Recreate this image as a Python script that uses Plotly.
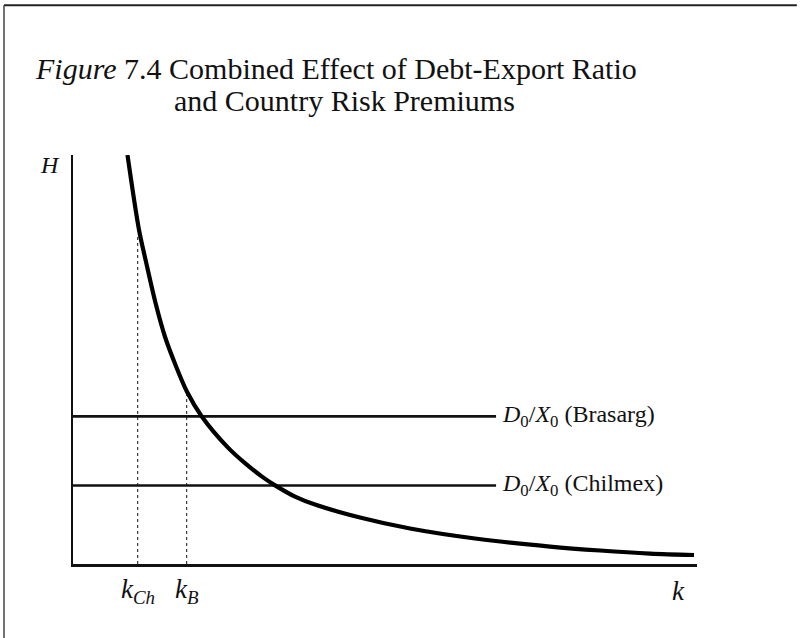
import plotly.graph_objects as go

# ---- data (abstract units: k on 0..100, H on 0..100) ----
k_curve = [8.73, 10.58, 11.70, 13.30, 14.74, 16.35, 18.27, 20.61, 24.84, 27.56, 30.29,
           32.45, 35.58, 38.78, 45.99, 54.01, 64.42, 76.44, 84.46, 92.47, 99.52]
H_curve = [100.0, 81.68, 73.87, 63.37, 55.56, 48.96, 42.12, 36.14, 28.45, 24.66, 21.37,
           19.17, 16.48, 14.53, 11.36, 8.67, 6.23, 4.27, 3.30, 2.56, 2.20]

H_brasarg = 36.1
H_chilmex = 19.2
line_end_k = 67.8

k_ch = 10.37
k_b = 18.22
H_at_kch = 80.5
H_at_kb = 41.9

serif = "Liberation Serif"
ink = "#111111"

fig = go.Figure()

# debt-export ratio lines
for H in (H_brasarg, H_chilmex):
    fig.add_trace(go.Scatter(x=[0, line_end_k], y=[H, H], mode="lines",
                             line=dict(color=ink, width=2.6), hoverinfo="skip"))

# dotted verticals
for kv, Hv in ((k_ch, H_at_kch), (k_b, H_at_kb)):
    fig.add_trace(go.Scatter(x=[kv, kv], y=[0, Hv], mode="lines",
                             line=dict(color=ink, width=1, dash="dot"), hoverinfo="skip"))

# curve
fig.add_trace(go.Scatter(x=k_curve, y=H_curve, mode="lines",
                         line=dict(color="black", width=4.2, shape="spline", smoothing=0.9),
                         hoverinfo="skip"))

lab_y = -0.067
annotations = [
    dict(text="<i>Figure</i> 7.4 Combined Effect of Debt-Export Ratio",
         xref="paper", yref="paper", x=-0.0641, y=1.212, xanchor="left", yanchor="middle",
         showarrow=False, font=dict(family=serif, size=30, color=ink)),
    dict(text="and Country Risk Premiums",
         xref="paper", yref="paper", x=0.1587, y=1.134, xanchor="left", yanchor="middle",
         showarrow=False, font=dict(family=serif, size=30, color=ink)),
    dict(text="<i>H</i>", x=-0.0369, y=0.9756, xref="paper", yref="paper", showarrow=False,
         xanchor="center", yanchor="middle", font=dict(family=serif, size=24, color=ink)),
    dict(text="<i>D</i><sub>0</sub>/<i>X</i><sub>0</sub> (Brasarg)", x=line_end_k + 0.7,
         y=H_brasarg, xref="x", yref="y", showarrow=False, xanchor="left", yanchor="middle",
         font=dict(family=serif, size=24, color=ink)),
    dict(text="<i>D</i><sub>0</sub>/<i>X</i><sub>0</sub> (Chilmex)", x=line_end_k + 0.7,
         y=H_chilmex, xref="x", yref="y", showarrow=False, xanchor="left", yanchor="middle",
         font=dict(family=serif, size=24, color=ink)),
    dict(text="<i>k<sub>Ch</sub></i>", x=k_ch / 100, y=lab_y, xref="paper", yref="paper",
         showarrow=False, xanchor="center", yanchor="middle",
         font=dict(family=serif, size=27, color=ink)),
    dict(text="<i>k<sub>B</sub></i>", x=k_b / 100, y=lab_y, xref="paper", yref="paper",
         showarrow=False, xanchor="center", yanchor="middle",
         font=dict(family=serif, size=27, color=ink)),
    dict(text="<i>k</i>", x=0.9696, y=lab_y, xref="paper", yref="paper", showarrow=False,
         xanchor="center", yanchor="middle", font=dict(family=serif, size=27, color=ink)),
]

shapes = [
    # page frame: top and left rules
    dict(type="line", xref="paper", yref="paper", x0=-0.1106, x1=1.16, y0=1.366, y1=1.366,
         line=dict(color="#222222", width=2)),
    dict(type="line", xref="paper", yref="paper", x0=-0.1106, x1=-0.1106, y0=1.366, y1=-0.2,
         line=dict(color="#444444", width=1.5)),
]

fig.update_layout(
    width=800, height=638,
    margin=dict(l=73, r=103, t=155, b=73.5, pad=0),
    paper_bgcolor="white", plot_bgcolor="white",
    showlegend=False,
    annotations=annotations,
    shapes=shapes,
    xaxis=dict(range=[0, 100], showgrid=False, zeroline=False, showticklabels=False,
               ticks="", showline=True, linecolor=ink, linewidth=2.6, fixedrange=True),
    yaxis=dict(range=[0, 100], showgrid=False, zeroline=False, showticklabels=False,
               ticks="", showline=True, linecolor=ink, linewidth=2.2, fixedrange=True),
)

fig.write_html("out.html", config={"displayModeBar": False},
               post_script=("document.documentElement.style.overflow='hidden';"
                            "document.body.style.margin='0';"
                            "document.body.style.overflow='hidden';"))
